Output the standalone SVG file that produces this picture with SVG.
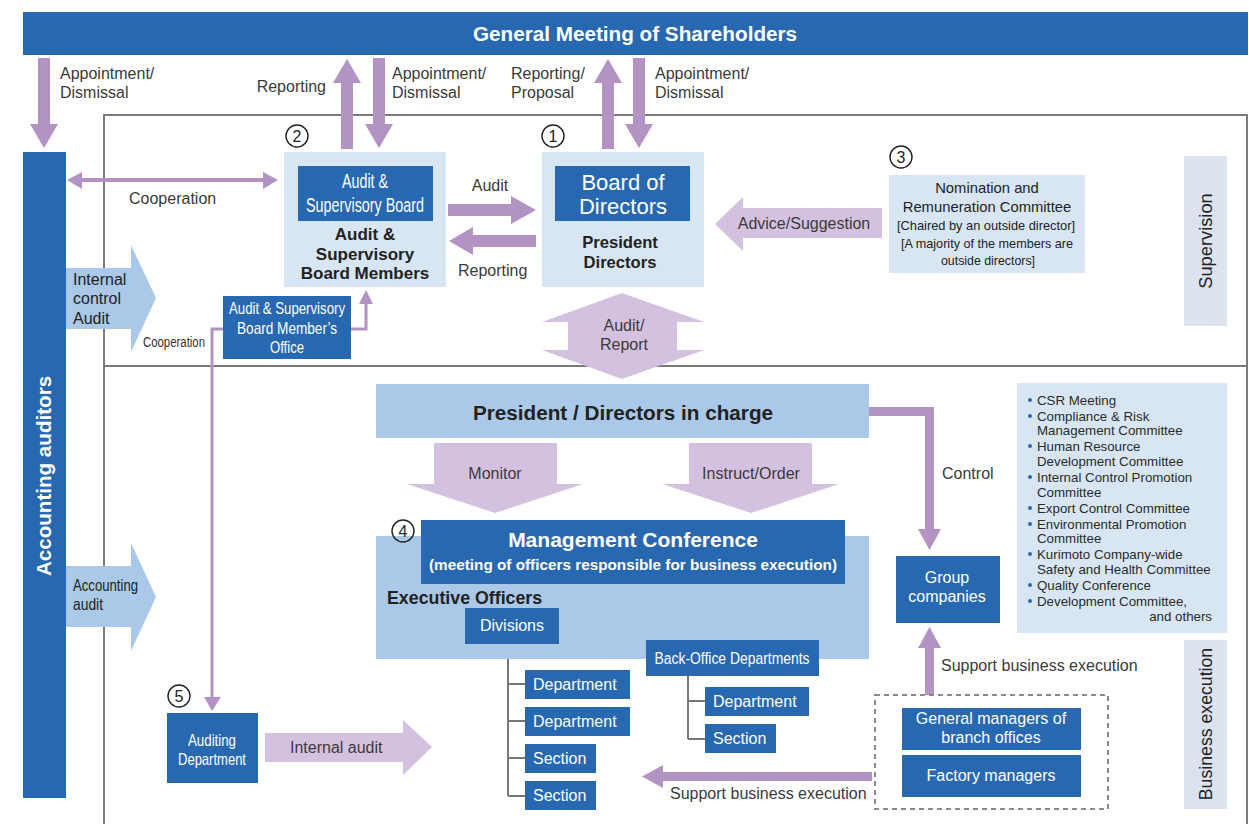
<svg xmlns="http://www.w3.org/2000/svg" width="1249" height="824" viewBox="0 0 1249 824">
  <style>
    .db{fill:#2768b1}
    .lb{fill:#aac8e8}
    .vl{fill:#d8e6f4}
    .gr{fill:#dde3ee}
    .pu{fill:#b293c4}
    .lp{fill:#d4c1e0}
    .frame{fill:none;stroke:#7a7a7a;stroke-width:2}
    .tree{fill:none;stroke:#777;stroke-width:2}
    .link{fill:none;stroke:#b293c4;stroke-width:3}
    text{font-family:"Liberation Sans",Arial,sans-serif}
    .lbl{font-size:16px;fill:#3a3a3a}
    .w{fill:#fff}
    .k{fill:#222}
    .b{font-weight:bold}
    .c{text-anchor:middle}
    .num{fill:none;stroke:#222;stroke-width:1.4}
    .numt{font-size:16px;fill:#222;text-anchor:middle}
    .li{font-size:13.3px;fill:#2a2a2a}
  </style>

  <!-- frames: supervision (top) and business execution (bottom) -->
  <g id="frames">
    <rect class="frame" x="104" y="115" width="1143" height="251"/>
    <path class="frame" d="M104,830 V366 H1247 V830"/>
  </g>

  <!-- shareholders meeting -->
  <g id="shareholders">
    <rect class="db" x="23" y="12" width="1225" height="43"/>
    <text class="w b c" x="635" y="41" font-size="20.7">General Meeting of Shareholders</text>
  </g>

  <!-- accounting auditors -->
  <g id="accounting-auditors">
    <rect class="db" x="23" y="152" width="43" height="646"/>
    <text class="w b c" font-size="20.6" transform="translate(51,476) rotate(-90)">Accounting auditors</text>
  </g>

  <!-- side labels -->
  <g id="supervision-label">
    <rect class="gr" x="1184" y="156" width="43" height="170"/>
    <text class="c" font-size="18.3" fill="#222" transform="translate(1212,241) rotate(-90)">Supervision</text>
  </g>
  <g id="execution-label">
    <rect class="gr" x="1184" y="640" width="43" height="169"/>
    <text class="c" font-size="17.7" fill="#222" transform="translate(1212,724) rotate(-90)">Business execution</text>
  </g>

  <!-- connectors -->
  <g id="connectors">
    <!-- appointment / reporting to and from the general meeting -->
    <polygon class="pu" points="38,58 50,58 50,124 58,124 44,148 30,124 38,124"/>
    <polygon class="pu" points="341,149 353,149 353,83 361,83 347,59 333,83 341,83"/>
    <polygon class="pu" points="373,58 385,58 385,124 393,124 379,148 365,124 373,124"/>
    <polygon class="pu" points="602,149 614,149 614,83 622,83 608,59 594,83 602,83"/>
    <polygon class="pu" points="633,58 645,58 645,124 653,124 639,148 625,124 633,124"/>
    <text class="lbl" x="60" y="79">Appointment/</text>
    <text class="lbl" x="60" y="98">Dismissal</text>
    <text class="lbl" x="326" y="92" text-anchor="end">Reporting</text>
    <text class="lbl" x="392" y="79">Appointment/</text>
    <text class="lbl" x="392" y="98">Dismissal</text>
    <text class="lbl" x="511" y="79">Reporting/</text>
    <text class="lbl" x="511" y="98">Proposal</text>
    <text class="lbl" x="655" y="79">Appointment/</text>
    <text class="lbl" x="655" y="98">Dismissal</text>

    <!-- cooperation between accounting auditors and the board -->
    <line x1="80" y1="180" x2="265" y2="180" stroke="#b293c4" stroke-width="4"/>
    <polygon class="pu" points="67,180 82,172 82,189"/>
    <polygon class="pu" points="278,180 263,172 263,189"/>
    <text class="lbl" x="129" y="204">Cooperation</text>

    <!-- audit / reporting between boards -->
    <polygon class="pu" points="448,204 511,204 511,196 536,210 511,224 511,216 448,216"/>
    <polygon class="pu" points="536,235 473,235 473,227 449,241 473,255 473,247 536,247"/>
    <text class="lbl c" x="490" y="191">Audit</text>
    <text class="lbl" x="458" y="276">Reporting</text>

    <!-- advice from the committee -->
    <polygon class="lp" points="882,208 743,208 743,197 715,224 743,251 743,238 882,238"/>
    <text class="lbl c" x="804" y="229">Advice/Suggestion</text>

    <!-- audit / report double arrow -->
    <polygon class="lp" points="622,293 704,322 677,322 677,350 704,350 622,379 542,350 568,350 568,322 542,322"/>
    <text class="lbl c" x="624" y="331">Audit/</text>
    <text class="lbl c" x="624" y="350">Report</text>

    <!-- audits from accounting auditors -->
    <polygon class="lb" points="66,268 131,268 131,245 156,298 131,352 131,329 66,329"/>
    <text class="k" font-size="16" x="73" y="285">Internal</text>
    <text class="k" font-size="16" x="73" y="304">control</text>
    <text class="k" font-size="16" x="73" y="324">Audit</text>
    <text font-size="15.5" fill="#333" x="143" y="347" textLength="62" lengthAdjust="spacingAndGlyphs">Cooperation</text>
    <polygon class="lb" points="66,566 131,566 131,543 156,597 131,651 131,627 66,627"/>
    <text class="k" font-size="16.5" x="73" y="591" textLength="65" lengthAdjust="spacingAndGlyphs">Accounting</text>
    <text class="k" font-size="16.5" x="73" y="610" textLength="30" lengthAdjust="spacingAndGlyphs">audit</text>

    <!-- office links -->
    <path class="link" d="M351,329 H366 V302"/>
    <polygon class="pu" points="359,304 373,304 366,290"/>
    <path class="link" d="M223,329 H212 V699"/>
    <polygon class="pu" points="204,697 221,697 212,711"/>

    <!-- executive flow -->
    <polygon class="lp" points="434,443 557,443 557,484 583,484 495,513 407,484 434,484"/>
    <text class="lbl c" x="495" y="479" font-size="16.8">Monitor</text>
    <polygon class="lp" points="689,443 812,443 812,484 839,484 751,513 662,484 689,484"/>
    <text class="lbl c" x="751" y="479" font-size="16.6">Instruct/Order</text>
    <polygon class="pu" points="869,407 934,407 934,529 941,529 929.5,550 918,529 925,529 925,416 869,416"/>
    <text class="lbl" x="942" y="479">Control</text>

    <polygon class="lp" points="265,733 403,733 403,720 432,747 403,775 403,762 265,762"/>
    <text class="lbl" x="290" y="753" font-size="16.4">Internal audit</text>

    <polygon class="pu" points="872,772 663,772 663,765 642,776.5 663,788 663,781 872,781"/>
    <text class="lbl" x="670" y="799">Support business execution</text>
    <polygon class="pu" points="925,695 934,695 934,648 941,648 929.5,627 918,648 925,648"/>
    <text class="lbl" x="941" y="671">Support business execution</text>

    <!-- organisation trees -->
    <path class="tree" d="M508,644 V796 M508,684 H525 M508,721 H525 M508,758 H525 M508,796 H525"/>
    <path class="tree" d="M688,676 V739 M688,701 H705 M688,739 H705"/>
  </g>

  <!-- ② audit & supervisory board -->
  <g id="audit-board">
    <rect class="vl" x="284" y="152" width="162" height="135"/>
    <rect class="db" x="298" y="166" width="135" height="55"/>
    <text class="w c" font-size="19.5" x="365" y="188" textLength="46" lengthAdjust="spacingAndGlyphs">Audit &amp;</text>
    <text class="w c" font-size="19.5" x="365" y="212" textLength="118" lengthAdjust="spacingAndGlyphs">Supervisory Board</text>
    <text class="k b c" font-size="17" x="365" y="240">Audit &amp;</text>
    <text class="k b c" font-size="17" x="365" y="260">Supervisory</text>
    <text class="k b c" font-size="17" x="365" y="279">Board Members</text>
    <circle class="num" cx="297" cy="136" r="11"/>
    <text class="numt" x="297" y="142">2</text>
  </g>

  <!-- ① board of directors -->
  <g id="board-of-directors">
    <rect class="vl" x="542" y="152" width="162" height="135"/>
    <rect class="db" x="555" y="166" width="135" height="55"/>
    <text class="w c" font-size="22" x="623" y="190">Board of</text>
    <text class="w c" font-size="22" x="623" y="214">Directors</text>
    <text class="k b c" font-size="16.6" x="620" y="248">President</text>
    <text class="k b c" font-size="16.6" x="620" y="268">Directors</text>
    <circle class="num" cx="553" cy="136" r="11"/>
    <text class="numt" x="553" y="142">1</text>
  </g>

  <!-- ③ nomination and remuneration committee -->
  <g id="nomination-committee">
    <rect class="vl" x="889" y="175" width="196" height="98"/>
    <text class="k c" font-size="14.8" x="987" y="193">Nomination and</text>
    <text class="k c" font-size="14.8" x="987" y="212">Remuneration Committee</text>
    <text class="k c" font-size="13" x="986" y="230" textLength="178" lengthAdjust="spacingAndGlyphs">[Chaired by an outside director]</text>
    <text class="k c" font-size="13" x="987" y="248" textLength="172" lengthAdjust="spacingAndGlyphs">[A majority of the members are</text>
    <text class="k c" font-size="13" x="988" y="265" textLength="94" lengthAdjust="spacingAndGlyphs">outside directors]</text>
    <circle class="num" cx="901" cy="157" r="11"/>
    <text class="numt" x="901" y="163">3</text>
  </g>

  <!-- board member's office -->
  <g id="board-office">
    <rect class="db" x="223" y="296" width="128" height="63"/>
    <text class="w c" font-size="16.5" x="287" y="314" textLength="116" lengthAdjust="spacingAndGlyphs">Audit &amp; Supervisory</text>
    <text class="w c" font-size="16.5" x="287" y="334" textLength="100" lengthAdjust="spacingAndGlyphs">Board Member’s</text>
    <text class="w c" font-size="16.5" x="287" y="353" textLength="34" lengthAdjust="spacingAndGlyphs">Office</text>
  </g>

  <!-- president / directors in charge -->
  <g id="president">
    <rect class="lb" x="376" y="384" width="493" height="54"/>
    <text class="k b c" font-size="20.7" x="623" y="420">President / Directors in charge</text>
  </g>

  <!-- ④ executive officers and management conference -->
  <g id="executive-officers">
    <rect class="lb" x="376" y="536" width="493" height="123"/>
    <text class="k b" font-size="17.8" x="387" y="604">Executive Officers</text>
  </g>
  <g id="management-conference">
    <rect class="db" x="421" y="520" width="424" height="64"/>
    <text class="w b c" font-size="21" x="633" y="547">Management Conference</text>
    <text class="w b c" font-size="15.3" x="633" y="570">(meeting of officers responsible for business execution)</text>
    <circle class="num" cx="403" cy="531" r="11"/>
    <text class="numt" x="403" y="537">4</text>
  </g>

  <g id="divisions">
    <rect class="db" x="465" y="608" width="94" height="36"/>
    <text class="w c" font-size="16" x="512" y="631">Divisions</text>
  </g>
  <g id="div-department-1">
    <rect class="db" x="525" y="670" width="105" height="29"/>
    <text class="w" font-size="16" x="533" y="690">Department</text>
  </g>
  <g id="div-department-2">
    <rect class="db" x="525" y="707" width="105" height="29"/>
    <text class="w" font-size="16" x="533" y="727">Department</text>
  </g>
  <g id="div-section-1">
    <rect class="db" x="525" y="744" width="71" height="29"/>
    <text class="w" font-size="16" x="533" y="764">Section</text>
  </g>
  <g id="div-section-2">
    <rect class="db" x="525" y="781" width="71" height="29"/>
    <text class="w" font-size="16" x="533" y="801">Section</text>
  </g>

  <g id="back-office">
    <rect class="db" x="646" y="640" width="173" height="36"/>
    <text class="w c" font-size="16" x="732" y="664" textLength="155" lengthAdjust="spacingAndGlyphs">Back-Office Departments</text>
  </g>
  <g id="bo-department">
    <rect class="db" x="705" y="687" width="104" height="29"/>
    <text class="w" font-size="16" x="713" y="707">Department</text>
  </g>
  <g id="bo-section">
    <rect class="db" x="705" y="724" width="71" height="29"/>
    <text class="w" font-size="16" x="713" y="744">Section</text>
  </g>

  <!-- group companies -->
  <g id="group-companies">
    <rect class="db" x="896" y="556" width="104" height="67"/>
    <text class="w c" font-size="16" x="947" y="583">Group</text>
    <text class="w c" font-size="16" x="947" y="602">companies</text>
  </g>

  <!-- branch and factory managers -->
  <g id="managers">
    <rect x="875" y="695" width="233" height="114" fill="none" stroke="#8a8a8a" stroke-width="2" stroke-dasharray="5,4"/>
    <rect class="db" x="902" y="708" width="179" height="42"/>
    <text class="w c" font-size="16" x="991" y="724">General managers of</text>
    <text class="w c" font-size="16" x="991" y="743">branch offices</text>
    <rect class="db" x="902" y="755" width="179" height="42"/>
    <text class="w c" font-size="16" x="991" y="781">Factory managers</text>
  </g>

  <!-- committees -->
  <g id="committees">
    <rect class="vl" x="1017" y="383" width="210" height="250"/>
    <g fill="#2768b1">
      <circle cx="1030" cy="400" r="2"/>
      <circle cx="1030" cy="416" r="2"/>
      <circle cx="1030" cy="446" r="2"/>
      <circle cx="1030" cy="477" r="2"/>
      <circle cx="1030" cy="508" r="2"/>
      <circle cx="1030" cy="524" r="2"/>
      <circle cx="1030" cy="554" r="2"/>
      <circle cx="1030" cy="585" r="2"/>
      <circle cx="1030" cy="601" r="2"/>
    </g>
    <text class="li" x="1037" y="405">CSR Meeting</text>
    <text class="li" x="1037" y="421">Compliance &amp; Risk</text>
    <text class="li" x="1037" y="435">Management Committee</text>
    <text class="li" x="1037" y="451">Human Resource</text>
    <text class="li" x="1037" y="466">Development Committee</text>
    <text class="li" x="1037" y="482">Internal Control Promotion</text>
    <text class="li" x="1037" y="497">Committee</text>
    <text class="li" x="1037" y="513">Export Control Committee</text>
    <text class="li" x="1037" y="529">Environmental Promotion</text>
    <text class="li" x="1037" y="543">Committee</text>
    <text class="li" x="1037" y="559">Kurimoto Company-wide</text>
    <text class="li" x="1037" y="574">Safety and Health Committee</text>
    <text class="li" x="1037" y="590">Quality Conference</text>
    <text class="li" x="1037" y="606">Development Committee,</text>
    <text class="li" x="1212" y="621" text-anchor="end">and others</text>
  </g>

  <!-- ⑤ auditing department -->
  <g id="auditing-department">
    <rect class="db" x="167" y="713" width="91" height="70"/>
    <text class="w c" font-size="16.5" x="212" y="746" textLength="48" lengthAdjust="spacingAndGlyphs">Auditing</text>
    <text class="w c" font-size="16.5" x="212" y="765" textLength="68" lengthAdjust="spacingAndGlyphs">Department</text>
    <circle class="num" cx="179" cy="696" r="11"/>
    <text class="numt" x="179" y="702">5</text>
  </g>
</svg>
